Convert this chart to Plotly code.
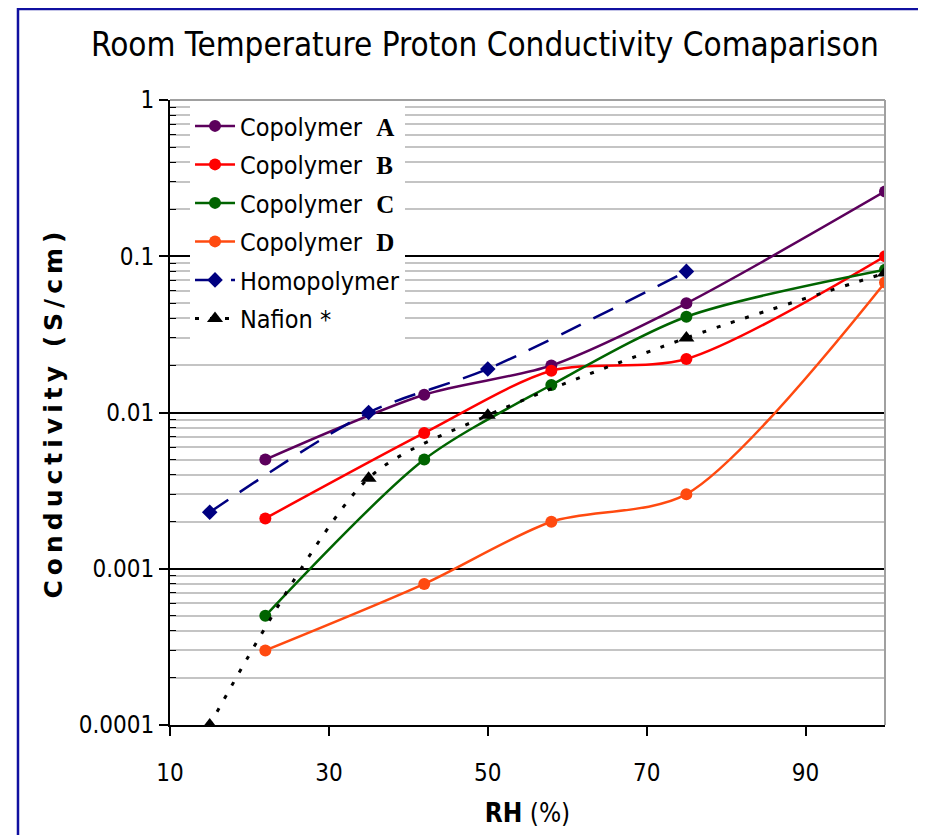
import plotly.graph_objects as go

# ---- data ----
rh_copolymer = [22, 42, 58, 75, 100]
cond_A = [0.005, 0.013, 0.020, 0.050, 0.26]
cond_B = [0.0021, 0.0074, 0.0185, 0.022, 0.10]
cond_C = [0.0005, 0.0050, 0.015, 0.041, 0.082]
cond_D = [0.0003, 0.0008, 0.0020, 0.0030, 0.068]
rh_homo = [15, 35, 50, 75]
cond_homo = [0.0023, 0.010, 0.019, 0.080]
rh_nafion = [15, 35, 50, 75, 100]
cond_nafion = [0.0001, 0.0038, 0.0096, 0.030, 0.078]

x_ticks = [10, 30, 50, 70, 90]
y_ticks = [0.0001, 0.001, 0.01, 0.1, 1]
y_tick_labels = ["0.0001", "0.001", "0.01", "0.1", "1"]
y_minor_ticks = [m * 10.0 ** e for e in range(-4, 0) for m in range(2, 10)]

NARROW = "DejaVu Sans Condensed, Liberation Sans Narrow, Arial Narrow, sans-serif"


def lab(letter):
    return ("Copolymer  <b><span style='font-family:Liberation Serif'>%s</span></b>"
            % letter)


fig = go.Figure()

series = [
    (lab("A"), rh_copolymer, cond_A, "#5c005c", "solid", "circle", 12, 2.5),
    (lab("B"), rh_copolymer, cond_B, "#ff0000", "solid", "circle", 12, 2.5),
    (lab("C"), rh_copolymer, cond_C, "#006400", "solid", "circle", 12, 2.5),
    (lab("D"), rh_copolymer, cond_D, "#ff4a10", "solid", "circle", 12, 2.5),
    ("Homopolymer", rh_homo, cond_homo, "#000080", "22px,14px", "diamond", 12, 2.5),
    ("Nafion *", rh_nafion, cond_nafion, "#000000", "4px,11px", "triangle-up", 14, 3),
]

for i, (name, xs, ys, col, dash, sym, msize, lw) in enumerate(series):
    fig.add_trace(go.Scatter(
        x=xs, y=ys, name=name, mode="lines+markers", legendgroup="g%d" % i,
        line=dict(color=col, width=lw, dash=dash, shape="spline", smoothing=0.8),
        marker=dict(color=col, size=msize, symbol=sym),
    ))

fig.update_layout(
    width=926, height=835,
    paper_bgcolor="white", plot_bgcolor="white",
    margin=dict(l=162, r=49, t=92, b=118),
    title=dict(text="Room Temperature Proton Conductivity Comaparison",
               x=0.515, xref="container", xanchor="center",
               y=0.956, yref="container", yanchor="middle",
               font=dict(family=NARROW, size=33, color="black")),
    showlegend=True,
    legend=dict(x=0.028, y=0.995, xanchor="left", yanchor="top",
                bgcolor="white", borderwidth=0,
                font=dict(family=NARROW, size=25, color="black"),
                tracegroupgap=3, itemwidth=40),
    shapes=[dict(type="rect", xref="paper", yref="paper",
                 x0=-0.2126, x1=1.0503, y0=-0.25, y1=1.1456,
                 line=dict(color="#1010a0", width=2.5), fillcolor="rgba(0,0,0,0)",
                 layer="above")],
)

fig.update_xaxes(
    range=[10, 100], tickvals=x_ticks, ticktext=[str(v) for v in x_ticks],
    showgrid=False, zeroline=False,
    showline=True, linecolor="black", linewidth=2,
    mirror=False, ticks="outside", ticklen=9, tickwidth=2, tickcolor="black",
    ticklabelstandoff=16,
    tickfont=dict(family=NARROW, size=24, color="black"),
    title=dict(text="<b>RH</b> (%)", standoff=18,
               font=dict(family=NARROW, size=26, color="black")),
)

fig.update_yaxes(
    type="log", range=[-4, 0], tickvals=y_ticks, ticktext=y_tick_labels,
    showgrid=True, gridcolor="black", gridwidth=1.5,
    showline=True, linecolor="black", linewidth=2,
    ticks="outside", ticklen=9, tickwidth=2, tickcolor="black",
    tickfont=dict(family=NARROW, size=24, color="black"),
    minor=dict(tickvals=y_minor_ticks, showgrid=True, gridcolor="#c4c4c4", gridwidth=2,
               ticks="inside", ticklen=6, tickcolor="black", tickwidth=1),
    title=dict(text="<b><span style='letter-spacing:5px'>Conductivity (S/cm)</span></b>",
               standoff=9,
               font=dict(family="DejaVu Sans, Verdana, sans-serif", size=25, color="black")),
)

# frame lines at top and right of plot area
fig.add_shape(type="line", xref="paper", yref="paper", x0=0, x1=1, y0=1, y1=1,
              line=dict(color="#a0a0a0", width=2))
fig.add_shape(type="line", xref="paper", yref="paper", x0=1, x1=1, y0=0, y1=1,
              line=dict(color="#a0a0a0", width=2))

fig.write_html("out.html")
